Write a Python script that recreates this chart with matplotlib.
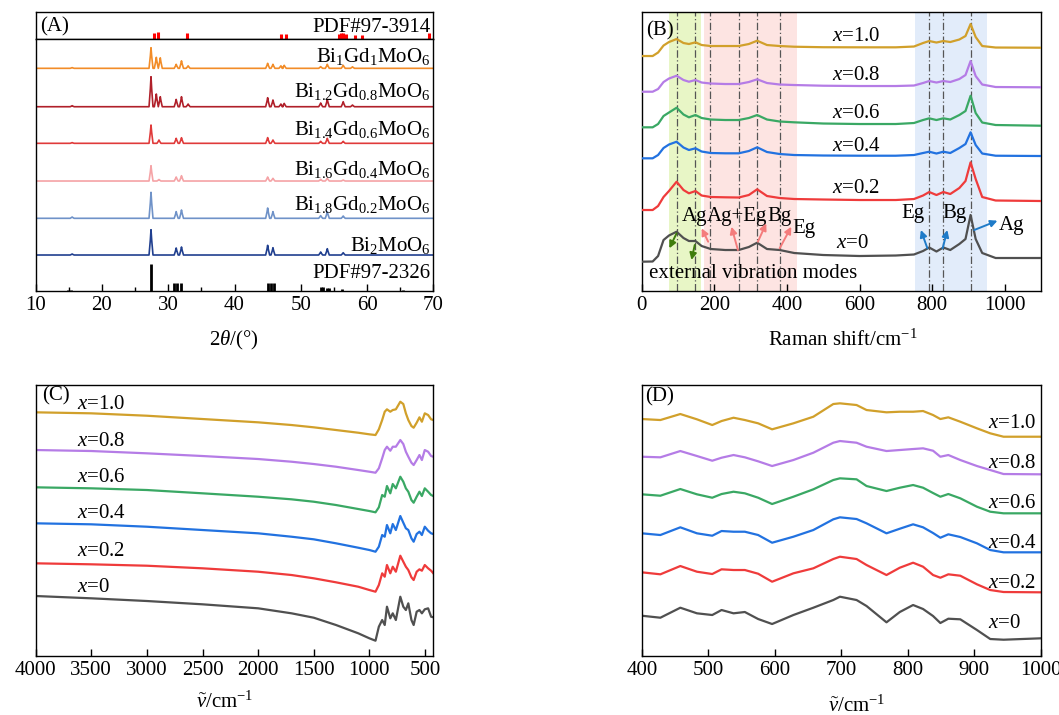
import matplotlib
matplotlib.use('Agg')
import matplotlib.pyplot as plt

plt.rcParams['font.family'] = ['Liberation Serif', 'DejaVu Serif']
plt.rcParams['mathtext.fontset'] = 'custom'
plt.rcParams['mathtext.rm'] = 'Liberation Serif'
plt.rcParams['mathtext.it'] = 'Liberation Serif:italic'
plt.rcParams['mathtext.bf'] = 'Liberation Serif:bold'
plt.rcParams['axes.linewidth'] = 1.0

FS = 15

# ---------------- (A) XRD ----------------
xrd_peak_pos = [15.5, 27.4, 28.2, 28.6, 28.8, 31.2, 32.0, 33.0, 45.0, 45.8, 47.0, 47.5, 53.0, 54.0, 56.4, 57.8]
xrd_bi1gd1 = [0.7, 20.6, 11, 0, 10.5, 4, 7.5, 2.5, 5, 4, 2.5, 3, 1.7, 4, 3, 1.5]
xrd_bi12gd08 = [1, 30, 12.7, 0, 10, 7.3, 10, 2.7, 9, 6.7, 2.7, 3.3, 3.7, 7.3, 5, 1.7]
xrd_bi14gd06 = [0.7, 18.3, 0, 3.3, 0, 5, 5.6, 0, 5.7, 3.3, 0, 0, 2, 5, 2, 0]
xrd_bi16gd04 = [0, 15.3, 0, 1.5, 0, 4, 5.3, 0, 4, 2.7, 0, 0, 1.7, 2.7, 1, 0]
xrd_bi18gd02 = [1.3, 26, 0, 0, 0, 6.7, 8.3, 0, 10.3, 6.7, 0, 0, 2.7, 6.7, 2.3, 0]
xrd_bi2 = [1, 25.3, 0, 0, 0, 7, 8, 0, 9.7, 7.3, 0, 0, 3, 6.3, 2.3, 0]
xrd_offsets = [222.7, 184.3, 147.7, 110, 72.7, 36]
xrd_labels = [r'Bi$_{1}$Gd$_{1}$MoO$_{6}$', r'Bi$_{1.2}$Gd$_{0.8}$MoO$_{6}$',
              r'Bi$_{1.4}$Gd$_{0.6}$MoO$_{6}$', r'Bi$_{1.6}$Gd$_{0.4}$MoO$_{6}$',
              r'Bi$_{1.8}$Gd$_{0.2}$MoO$_{6}$', r'Bi$_{2}$MoO$_{6}$']
xrd_label_y = [229.3, 194.3, 156, 116, 81, 40.3]
xrd_colors = ['#f28c28', '#b0202a', '#e03a3a', '#f5a3a6', '#6f92c8', '#203f8f']

pdf2326_pos = [14.8, 15.4, 27.4, 30.9, 31.3, 31.9, 45.1, 45.5, 46.0, 53.0, 53.4, 54.0, 54.3, 56.2, 65.4]
pdf2326_h = [1, 1.5, 26.7, 7.7, 7.7, 7.7, 8.3, 8.3, 8.3, 3.7, 3.7, 3, 3, 2.3, 1]
pdf3914_pos = [27.9, 28.5, 32.9, 47.0, 47.7, 55.8, 56.1, 56.4, 56.8, 58.2, 59.3, 69.4]
pdf3914_h = [5.5, 6.3, 6, 5, 5, 5, 6, 6, 5, 4, 4, 5.5]

# ---------------- (B) Raman ----------------
raman_shift = [0, 30, 45, 60, 75, 96, 115, 130, 148, 165, 190, 230, 267, 295, 318, 345, 380, 420,
               500, 600, 700, 750, 775, 792, 812, 831, 850, 875, 892, 906, 920, 938, 975, 1100]
raman_x0 = [29.3, 29.5, 35, 51, 55.5, 59.3, 53, 50, 50, 45, 42, 41, 41, 44, 48.3, 42, 41, 38,
            36, 35, 35.5, 36.5, 40, 43.5, 39.5, 43.5, 41, 47, 52, 76, 52, 38, 33, 33]
raman_x02 = [81, 81, 85, 94, 100, 109.3, 101, 97.7, 100, 95.5, 94, 93.7, 93.5, 96, 101.7, 95, 93, 92,
             91.5, 91, 91, 92, 95.5, 99, 96, 99, 97, 103, 110, 128.7, 112, 94, 90.5, 90]
raman_x04 = [132.7, 132.7, 136, 143, 146.5, 149.3, 143.5, 141, 142.7, 139.5, 138, 137.7, 137.7, 140, 143.7,
             139, 137, 136, 135.5, 135.3, 135.3, 136, 138, 139.3, 137.5, 139.3, 138, 143, 147, 158.7,
             146, 137.5, 135.3, 135]
raman_x06 = [163.7, 163.7, 167, 175, 178.5, 183.3, 176.5, 173.7, 176, 173, 171.5, 171, 171, 173, 176,
             171.5, 169.5, 168.7, 167.5, 167, 167, 168, 171, 172.7, 171, 172.7, 171.5, 176, 180, 195.3,
             178, 168.5, 166, 165.3]
raman_x08 = [199.3, 199.3, 202, 209, 212.5, 215.3, 211, 209.3, 211, 208.5, 207.5, 207, 207, 209, 211.7,
             208, 206.5, 206, 205.3, 205, 205, 205.5, 208, 210, 208.5, 210, 209, 212, 216, 230,
             215, 206.5, 204, 203.7]
raman_x10 = [235, 235, 238.5, 245.5, 249, 252, 248, 247, 248.7, 246, 245, 245, 245, 247, 250.3,
             246, 245, 244.3, 243.8, 243.7, 243.7, 244.5, 248, 250, 248.5, 250, 249, 251.5, 255, 267,
             254, 245, 243.5, 243.3]
raman_mode_lines = [96, 148, 188, 267, 318, 380, 792, 831, 906]

# ---------------- (C) FTIR full ----------------
ftir_wn = [4000, 3500, 3000, 2500, 2000, 1700, 1500, 1300, 1100, 1000, 945, 915, 885, 862, 842, 812,
           790, 762, 722, 695, 672, 650, 622, 602, 575, 550, 528, 502, 472, 445, 425]
ftir_x0 = [60, 57.7, 55, 51.7, 47.7, 42.7, 38.3, 31, 22.7, 17.7, 15.3, 29.3, 36, 31, 49.3, 37.7,
           42.7, 36, 59.3, 49.3, 46, 52.7, 36, 31, 44.3, 46, 42.7, 46.7, 47.7, 39.3, 38.7]
ftir_x02 = [92.7, 91.7, 90.3, 87.7, 84.3, 81, 77.7, 73.7, 69.3, 66, 64.3, 71, 82.7, 79.3, 91, 82.7,
            89.3, 84.3, 100.3, 94.3, 89.3, 86, 78.7, 76, 84.3, 86.7, 85.3, 91, 87.7, 85.3, 82.7]
ftir_x04 = [132.7, 131.7, 129.3, 126, 122.7, 119.3, 116.7, 112.7, 108.3, 106, 104.3, 109.3, 121, 119.3,
            131, 122.7, 132, 126, 140, 133.3, 127.7, 126, 117.7, 114.3, 122, 124.3, 121, 129.3, 125.3,
            122.7, 122]
ftir_x06 = [168.7, 167.7, 166, 162.7, 159.3, 156.7, 154.3, 151, 147, 145, 143.7, 148.7, 161, 159.3,
            170, 162.7, 172, 167.7, 179.3, 174.3, 167.7, 164.3, 156, 153.3, 159.3, 164.3, 160, 167.7,
            164.3, 161, 160]
ftir_x08 = [206, 205, 202.7, 200, 197, 194.3, 192, 189.3, 186, 184.3, 183.3, 187.7, 197.7, 206, 209.3,
            205.3, 209.3, 209.3, 216, 212, 204.3, 199.3, 193.3, 191, 196, 201, 196, 206, 204.3, 200, 199.3]
ftir_x10 = [243.7, 242.7, 240.3, 237, 233.7, 231, 228.7, 226, 223.3, 221.7, 221, 226.7, 236, 244.3,
            246.7, 244.3, 246, 246.7, 254.3, 252, 242.7, 236, 230, 228.3, 233.3, 238.7, 234.3, 242.7,
            241, 236.7, 236]

# ---------------- (D) FTIR 400-1000 ----------------
ftirz_wn = [400, 428, 458, 483, 506, 520, 538, 555, 575, 596, 628, 658, 688, 698, 723, 738, 768, 788,
            808, 823, 838, 849, 861, 879, 904, 924, 944, 1000]
ftirz_x0 = [40.3, 38.3, 48.3, 42.7, 41, 46, 42.7, 44, 37, 32, 41, 48.3, 56, 59.3, 56, 50, 33.7, 44,
            51, 47, 40, 33, 37.3, 36.7, 26, 17, 16.3, 17.7]
ftirz_x02 = [83.7, 81.7, 90, 84.3, 82, 86.7, 86, 86, 82.3, 74.3, 82.7, 87.7, 97, 99.3, 97, 91, 81, 88.3,
             93.3, 89.3, 81, 78.3, 81.7, 80.3, 71.7, 66, 64, 63.7]
ftirz_x04 = [122.7, 121, 128.7, 122.7, 120.3, 125, 124.3, 124.3, 121, 113.3, 119.3, 126, 136.7, 138.7,
             137, 132.7, 122.7, 127.3, 131.7, 128.7, 123, 118.3, 121.7, 119, 112.7, 106, 103.7, 103.7]
ftirz_x06 = [161.7, 160.3, 167, 161.7, 158.3, 162, 164.3, 162.7, 158.3, 152, 159.3, 166.7, 176, 177.7,
             176.7, 170, 165, 168.3, 171, 168.3, 163, 159.3, 162, 157.7, 149.3, 144.3, 142.7, 142.7]
ftirz_x08 = [199.3, 198.7, 205, 200, 195.3, 198.3, 201, 198.7, 194.7, 190, 196, 203.3, 213.3, 215,
             213.3, 209.3, 205, 206, 207, 207.7, 205.3, 199.3, 201, 196, 190, 186, 182, 181.7]
ftirz_x10 = [237, 236, 242, 236.7, 231, 235, 238.3, 236, 232.7, 226.7, 232.7, 239.3, 252, 252.7, 251,
             246, 243.7, 244.3, 244.3, 245, 241, 237, 238.7, 234.3, 227.7, 222.7, 219.3, 219.3]

series_labels = [r'$x$=0', r'$x$=0.2', r'$x$=0.4', r'$x$=0.6', r'$x$=0.8', r'$x$=1.0']
series_colors = ['#505050', '#ef3b3b', '#2272e0', '#3aa864', '#b57ce6', '#d1a02b']

raman_series = [raman_x0, raman_x02, raman_x04, raman_x06, raman_x08, raman_x10]
raman_label_y = [42.7, 97.7, 140.3, 172.7, 211, 250.3]
raman_label_x = [536, 525, 525, 525, 525, 525]
ftir_series = [ftir_x0, ftir_x02, ftir_x04, ftir_x06, ftir_x08, ftir_x10]
ftir_label_y = [64.3, 100.3, 137.7, 173.7, 210, 246.7]
ftirz_series = [ftirz_x0, ftirz_x02, ftirz_x04, ftirz_x06, ftirz_x08, ftirz_x10]
ftirz_label_y = [27.7, 67.7, 107.7, 147.7, 187.7, 227.7]


def xrd_profile(pos, hts, base, w=0.3):
    xs, ys = [10.0], [base]
    for p, h in zip(pos, hts):
        if h <= 0:
            continue
        xs += [p - w, p - 0.1, p, p + 0.1, p + w]
        ys += [base, base + 0.6 * h, base + h, base + 0.6 * h, base]
    xs.append(70.0)
    ys.append(base)
    return xs, ys


def style(ax):
    ax.tick_params(axis='x', direction='in', length=5, width=1, labelsize=FS, top=False)
    ax.set_yticks([])
    for s in ax.spines.values():
        s.set_linewidth(1.0)


fig = plt.figure(figsize=(10.59, 7.15), dpi=100)

# ---- A ----
axAt = fig.add_axes([0.0337, 0.9450, 0.3755, 0.0386])
axA = fig.add_axes([0.0337, 0.5930, 0.3755, 0.3520])
axAt.set_xlim(10, 70)
axAt.set_ylim(0, 27.6)
axAt.set_xticks([])
axAt.set_yticks([])
axAt.vlines(pdf3914_pos, 0.8, [0.8 + h for h in pdf3914_h], color='#ff0000', lw=2.2)
axAt.text(69.6, 7.6, 'PDF#97-3914', ha='right', va='baseline', fontsize=FS)
axAt.text(10.6, 7.6, '(A)', ha='left', va='baseline', fontsize=FS)

axA.set_xlim(10, 70)
axA.set_ylim(0, 251.7)
style(axA)
axA.set_xticks(range(10, 71, 10))
axA.set_xticks(range(15, 70, 10), minor=True)
axA.tick_params(axis='x', which='minor', direction='in', length=3, width=1, top=False)
xrd_sets = [xrd_bi1gd1, xrd_bi12gd08, xrd_bi14gd06, xrd_bi16gd04, xrd_bi18gd02, xrd_bi2]
for hts, off, col, lab, ly in zip(xrd_sets, xrd_offsets, xrd_colors, xrd_labels, xrd_label_y):
    xs, ys = xrd_profile(xrd_peak_pos, hts, off)
    axA.plot(xs, ys, color=col, lw=1.2)
    axA.text(69.6, ly, lab, ha='right', va='baseline', fontsize=FS)
axA.vlines(pdf2326_pos, 0, pdf2326_h, color='black', lw=2.0)
axA.text(69.6, 12.7, 'PDF#97-2326', ha='right', va='baseline', fontsize=FS)
fig.text(234 / 1059, 1 - 340 / 715, r'2$\it{\theta}$/(°)', ha='center', va='center', fontsize=FS)

# ---- B ----
axB = fig.add_axes([0.6060, 0.5930, 0.3770, 0.3906])
axB.set_xlim(0, 1100)
axB.set_ylim(0, 279.3)
style(axB)
axB.set_xticks(range(0, 1001, 200))
axB.axvspan(75, 162, color='#e8f6c6', lw=0, zorder=0)
axB.axvspan(171, 427, color='#fde4e2', lw=0, zorder=0)
axB.axvspan(753, 952, color='#e2ecfa', lw=0, zorder=0)
for xv in raman_mode_lines:
    axB.axvline(xv, color='#555555', lw=0.9, ls=(0, (6, 2, 1, 2)), zorder=1)
for ys, col, lab, lx, ly in zip(raman_series, series_colors, series_labels, raman_label_x, raman_label_y):
    axB.plot(raman_shift, ys, color=col, lw=1.6, zorder=3)
    axB.text(lx, ly, lab, ha='left', va='baseline', fontsize=FS, zorder=4)
axB.text(12, 256, '(B)', ha='left', va='baseline', fontsize=FS)
for txt, tx, ty in [('Ag', 110, 70), ('Ag+Eg', 179, 70), ('Bg', 347, 70), ('Eg', 416, 57.7),
                    ('Eg', 714, 72.7), ('Bg', 828, 72.7), ('Ag', 984, 61)]:
    axB.text(tx, ty, txt, ha='left', va='baseline', fontsize=FS, zorder=5)
axB.text(20, 12.7, 'external vibration modes', ha='left', va='baseline', fontsize=FS, zorder=5)
arrows = [((96, 57.7), (76, 42.7), '#3f7d0c'), ((146, 46), (137, 31), '#3f7d0c'),
          ((183, 49.3), (165, 62.7), '#f47c7c'), ((265, 41), (247, 64.3), '#f47c7c'),
          ((320, 49.3), (343, 67.7), '#f47c7c'), ((380, 42.7), (412, 64.3), '#f47c7c'),
          ((787, 42.7), (769, 61), '#1f7bc8'), ((829, 42.7), (842, 61), '#1f7bc8'),
          ((916, 61), (980, 70.3), '#1f7bc8')]
for tail, head, col in arrows:
    axB.annotate('', xy=head, xytext=tail,
                 arrowprops=dict(arrowstyle='-|>', color=col, lw=1.4, mutation_scale=10,
                                 shrinkA=0, shrinkB=0), zorder=6)
fig.text(843 / 1059, 1 - 340 / 715, r'Raman shift/cm$^{-1}$', ha='center', va='center', fontsize=FS)

# ---- C ----
axC = fig.add_axes([0.0337, 0.0825, 0.3755, 0.3790])
axC.set_xlim(4000, 425)
axC.set_ylim(0, 271)
style(axC)
axC.set_xticks(range(4000, 499, -500))
for ys, col, lab, ly in zip(ftir_series, series_colors, series_labels, ftir_label_y):
    axC.plot(ftir_wn, ys, color=col, lw=1.6)
    axC.text(3629, ly, lab, ha='left', va='baseline', fontsize=FS)
axC.text(3943, 256, '(C)', ha='left', va='baseline', fontsize=FS)
fig.text(225 / 1059, 1 - 702 / 715, r'$\tilde{\nu}$/cm$^{-1}$', ha='center', va='center', fontsize=FS)

# ---- D ----
axD = fig.add_axes([0.6060, 0.0825, 0.3768, 0.3790])
axD.set_xlim(400, 1000)
axD.set_ylim(0, 271)
style(axD)
axD.set_xticks(range(400, 1001, 100))
for ys, col, lab, ly in zip(ftirz_series, series_colors, series_labels, ftirz_label_y):
    axD.plot(ftirz_wn, ys, color=col, lw=1.6)
    axD.text(921, ly, lab, ha='left', va='baseline', fontsize=FS)
axD.text(405, 254.3, '(D)', ha='left', va='baseline', fontsize=FS)
fig.text(857 / 1059, 1 - 706 / 715, r'$\tilde{\nu}$/cm$^{-1}$', ha='center', va='center', fontsize=FS)

fig.savefig('out.png', dpi=100)
